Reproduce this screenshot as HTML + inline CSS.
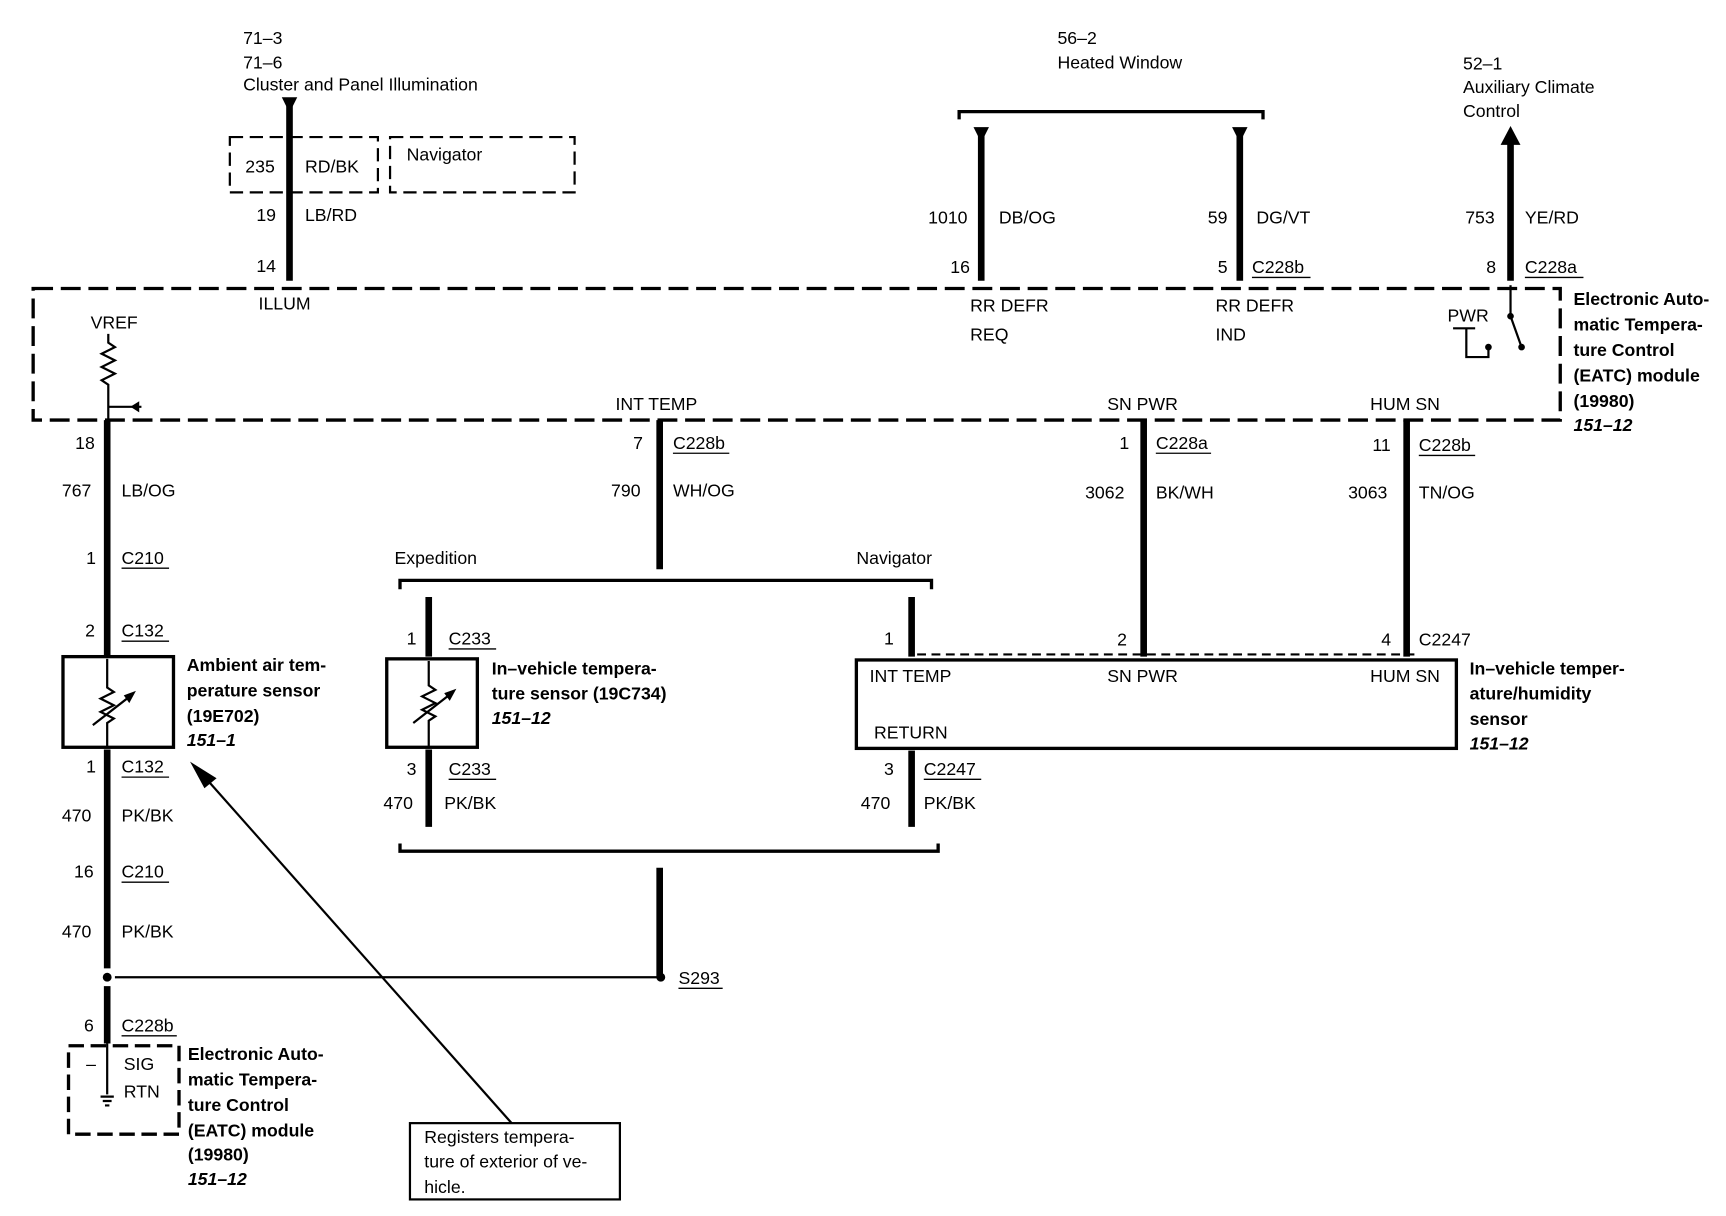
<!DOCTYPE html>
<html><head><meta charset="utf-8"><style>
html,body{margin:0;padding:0;background:#fff;}
svg{display:block;}
text{font-family:"Liberation Sans",sans-serif;font-size:16px;fill:#000;}
.b{font-weight:bold;}
.i{font-weight:bold;font-style:italic;}
.w{stroke:#000;stroke-width:6;fill:none;}
.t{stroke:#000;stroke-width:2;fill:none;}
.d{stroke:#000;stroke-width:3;fill:none;stroke-dasharray:18,7;}
.u{stroke:#000;stroke-width:1.2;}
</style></head><body>
<svg width="1726" height="1216" viewBox="0 0 1562 1100" preserveAspectRatio="none" xmlns="http://www.w3.org/2000/svg">
<!-- top left -->
<text x="220" y="40">71–3</text><text x="220" y="62">71–6</text><text x="220" y="82">Cluster and Panel Illumination</text>
<polygon points="255,88 269,88 262,102" fill="#000"/>
<line class="w" x1="262" y1="95" x2="262" y2="254"/>
<rect class="d" x="208" y="124" width="134" height="50" style="stroke-width:2;stroke-dasharray:12,6"/>
<rect class="d" x="353" y="124" width="167" height="50" style="stroke-width:2;stroke-dasharray:12,6"/>
<text x="368" y="145">Navigator</text>
<text x="222" y="156">235</text><text x="276" y="156">RD/BK</text>
<text x="232" y="200">19</text><text x="276" y="200">LB/RD</text>
<text x="232" y="246">14</text><text x="234" y="280">ILLUM</text>
<!-- heated window -->
<text x="957" y="40">56–2</text><text x="957" y="62">Heated Window</text>
<path class="t" d="M868,108 V101 H1143 V108" style="stroke-width:3"/>
<polygon points="881,115 895,115 888,129" fill="#000"/>
<polygon points="1115,115 1129,115 1122,129" fill="#000"/>
<line class="w" x1="888" y1="120" x2="888" y2="254"/>
<line class="w" x1="1122" y1="120" x2="1122" y2="254"/>
<text x="840" y="202">1010</text><text x="904" y="202">DB/OG</text>
<text x="1093" y="202">59</text><text x="1137" y="202">DG/VT</text>
<text x="860" y="247">16</text><text x="1102" y="247">5</text>
<text x="1133" y="247">C228b</text><line class="u" x1="1133" y1="251" x2="1186" y2="251"/>
<text x="878" y="282">RR DEFR</text><text x="878" y="308">REQ</text>
<text x="1100" y="282">RR DEFR</text><text x="1100" y="308">IND</text>
<!-- aux -->
<text x="1324" y="63">52–1</text><text x="1324" y="84">Auxiliary Climate</text><text x="1324" y="106">Control</text>
<polygon points="1358,131 1376,131 1367,114" fill="#000"/>
<line class="w" x1="1367" y1="128" x2="1367" y2="254"/>
<text x="1326" y="202">753</text><text x="1380" y="202">YE/RD</text>
<text x="1345" y="247">8</text><text x="1380" y="247">C228a</text><line class="u" x1="1380" y1="251" x2="1433" y2="251"/>
<!-- module box -->
<path class="d" d="M30,261 H1412 V380 H30 Z"/>
<text class="b" x="1424" y="276">Electronic Auto-</text>
<text class="b" x="1424" y="299">matic Tempera-</text>
<text class="b" x="1424" y="322">ture Control</text>
<text class="b" x="1424" y="345">(EATC) module</text>
<text class="b" x="1424" y="368">(19980)</text>
<text class="i" x="1424" y="390">151–12</text>
<text x="1310" y="291">PWR</text>
<line class="t" x1="1367" y1="258" x2="1367" y2="286"/>
<circle cx="1367" cy="286" r="3"/>
<line class="t" x1="1367" y1="286" x2="1377" y2="314"/>
<circle cx="1377" cy="314" r="3"/>
<path class="t" d="M1315,297 H1335 M1327,297 V323 H1347 V314"/>
<circle cx="1347" cy="314" r="3"/>
<text x="82" y="297">VREF</text>
<path class="t" d="M98,302 V310 L104,314 L92,320 L104,326 L92,332 L104,338 L92,344 L98,348 V380"/>
<line class="t" x1="98" y1="368" x2="128" y2="368"/>
<polygon points="118,368 126,363 126,373" fill="#000"/>
<!-- left chain -->
<line class="w" x1="97" y1="380" x2="97" y2="594"/>
<text x="68" y="406">18</text>
<text x="56" y="449">767</text><text x="110" y="449">LB/OG</text>
<text x="78" y="510">1</text><text x="110" y="510">C210</text><line class="u" x1="110" y1="514" x2="153" y2="514"/>
<text x="77" y="576">2</text><text x="110" y="576">C132</text><line class="u" x1="110" y1="580" x2="153" y2="580"/>
<rect x="57" y="594" width="100" height="82" fill="#fff" stroke="#000" stroke-width="3"/>
<path class="t" d="M97,596 V622 L103,626 L91,632 L103,638 L91,644 L103,650 L97,654 V676"/>
<line class="t" x1="84" y1="656" x2="120" y2="628"/><polygon points="123,625 112,629 117,636" fill="#000"/>
<text class="b" x="169" y="607">Ambient air tem-</text>
<text class="b" x="169" y="630">perature sensor</text>
<text class="b" x="169" y="653">(19E702)</text>
<text class="i" x="169" y="675">151–1</text>
<line class="w" x1="97" y1="678" x2="97" y2="876"/>
<text x="78" y="699">1</text><text x="110" y="699">C132</text><line class="u" x1="110" y1="703" x2="153" y2="703"/>
<text x="56" y="743">470</text><text x="110" y="743">PK/BK</text>
<text x="67" y="794">16</text><text x="110" y="794">C210</text><line class="u" x1="110" y1="798" x2="153" y2="798"/>
<text x="56" y="848">470</text><text x="110" y="848">PK/BK</text>
<circle cx="97" cy="884" r="4"/>
<line class="t" x1="104" y1="884" x2="598" y2="884"/>
<line class="w" x1="97" y1="892" x2="97" y2="944"/>
<text x="76" y="933">6</text><text x="110" y="933">C228b</text><line class="u" x1="110" y1="937" x2="160" y2="937"/>
<rect class="d" x="62" y="946" width="100" height="80" style="stroke-dasharray:14,6"/>
<line class="t" x1="97" y1="944" x2="97" y2="990"/>
<path class="t" d="M91,992 H103 M93,996 H101 M95,1000 H99"/>
<text x="78" y="968">–</text><text x="112" y="968">SIG</text><text x="112" y="993">RTN</text>
<text class="b" x="170" y="959">Electronic Auto-</text>
<text class="b" x="170" y="982">matic Tempera-</text>
<text class="b" x="170" y="1005">ture Control</text>
<text class="b" x="170" y="1028">(EATC) module</text>
<text class="b" x="170" y="1050">(19980)</text>
<text class="i" x="170" y="1072">151–12</text>
<rect x="371" y="1016" width="190" height="69" fill="#fff" stroke="#000" stroke-width="2"/>
<text x="384" y="1034">Registers tempera-</text>
<text x="384" y="1056">ture of exterior of ve-</text>
<text x="384" y="1079">hicle.</text>
<line class="t" x1="463" y1="1016" x2="180" y2="697"/>
<polygon points="172,689 196,704 185,713" fill="#000"/>
<!-- INT TEMP -->
<text x="557" y="371">INT TEMP</text>
<line class="w" x1="597" y1="380" x2="597" y2="515"/>
<text x="573" y="406">7</text><text x="609" y="406">C228b</text><line class="u" x1="609" y1="410" x2="660" y2="410"/>
<text x="553" y="449">790</text><text x="609" y="449">WH/OG</text>
<path class="t" d="M362,533 V525 H843 V533" style="stroke-width:3"/>
<text x="357" y="510">Expedition</text><text x="775" y="510">Navigator</text>
<line class="w" x1="388" y1="540" x2="388" y2="594"/>
<text x="368" y="583">1</text><text x="406" y="583">C233</text><line class="u" x1="406" y1="587" x2="449" y2="587"/>
<rect x="350" y="596" width="82" height="80" fill="#fff" stroke="#000" stroke-width="3"/>
<path class="t" d="M388,598 V620 L394,624 L382,630 L394,636 L382,642 L394,648 L388,652 V676"/>
<line class="t" x1="374" y1="654" x2="410" y2="626"/><polygon points="413,623 402,627 407,634" fill="#000"/>
<text class="b" x="445" y="610">In–vehicle tempera-</text>
<text class="b" x="445" y="633">ture sensor (19C734)</text>
<text class="i" x="445" y="655">151–12</text>
<line class="w" x1="388" y1="678" x2="388" y2="748"/>
<text x="368" y="701">3</text><text x="406" y="701">C233</text><line class="u" x1="406" y1="705" x2="449" y2="705"/>
<text x="347" y="732">470</text><text x="402" y="732">PK/BK</text>
<line class="w" x1="825" y1="540" x2="825" y2="594"/>
<text x="800" y="583">1</text>
<line class="t" x1="830" y1="592" x2="1280" y2="592" style="stroke-dasharray:8,5"/>
<rect x="775" y="597" width="543" height="80" fill="#fff" stroke="#000" stroke-width="3"/>
<text x="787" y="617">INT TEMP</text><text x="1002" y="617">SN PWR</text><text x="1240" y="617">HUM SN</text>
<text x="791" y="668">RETURN</text>
<text x="1002" y="371">SN PWR</text>
<line class="w" x1="1035" y1="380" x2="1035" y2="594"/>
<text x="1013" y="406">1</text><text x="1046" y="406">C228a</text><line class="u" x1="1046" y1="410" x2="1096" y2="410"/>
<text x="982" y="451">3062</text><text x="1046" y="451">BK/WH</text>
<text x="1011" y="584">2</text>
<text x="1240" y="371">HUM SN</text>
<line class="w" x1="1273" y1="380" x2="1273" y2="594"/>
<text x="1242" y="408">11</text><text x="1284" y="408">C228b</text><line class="u" x1="1284" y1="412" x2="1335" y2="412"/>
<text x="1220" y="451">3063</text><text x="1284" y="451">TN/OG</text>
<text x="1250" y="584">4</text><text x="1284" y="584">C2247</text>
<text class="b" x="1330" y="610">In–vehicle temper-</text>
<text class="b" x="1330" y="633">ature/humidity</text>
<text class="b" x="1330" y="656">sensor</text>
<text class="i" x="1330" y="678">151–12</text>
<line class="w" x1="825" y1="679" x2="825" y2="748"/>
<text x="800" y="701">3</text><text x="836" y="701">C2247</text><line class="u" x1="836" y1="705" x2="888" y2="705"/>
<text x="779" y="732">470</text><text x="836" y="732">PK/BK</text>
<path class="t" d="M362,763 V770 H849 V763" style="stroke-width:3"/>
<line class="w" x1="597" y1="785" x2="597" y2="884"/>
<circle cx="598" cy="884" r="4"/>
<text x="614" y="890">S293</text><line class="u" x1="614" y1="894" x2="654" y2="894"/>
</svg>
</body></html>
